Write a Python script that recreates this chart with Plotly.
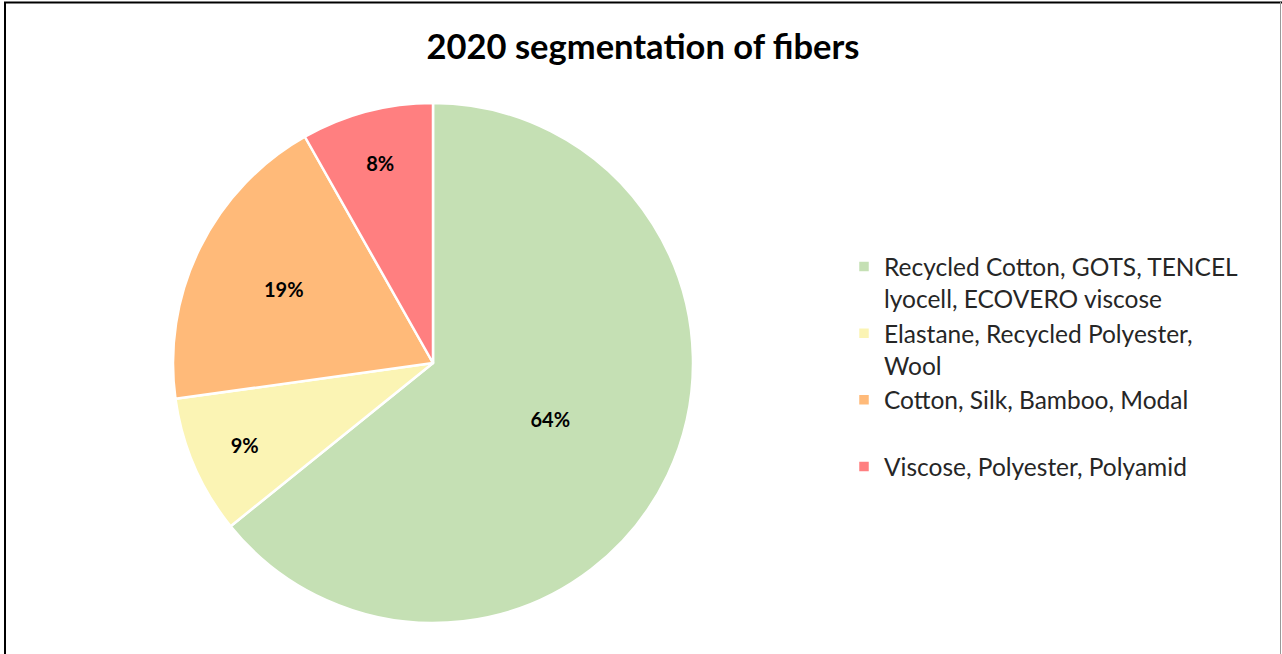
import plotly.graph_objects as go

title = "2020 segmentation of fibers"
categories = [
    "Recycled Cotton, GOTS, TENCEL<br>lyocell, ECOVERO viscose",
    "Elastane, Recycled Polyester,<br>Wool",
    "Cotton, Silk, Bamboo, Modal<br> ",
    "Viscose, Polyester, Polyamid",
]
values = [64.2, 8.6, 19.0, 8.2]
colors = ["#C5E0B4", "#FBF4B4", "#FFBA79", "#FF7F80"]

W, H = 1282, 654
cx, cy, r = 433, 363, 260

legend_labels = ["<span style='font-size:24.5px'>" + c + "</span>" for c in categories]

fig = go.Figure(go.Pie(
    labels=legend_labels,
    values=values,
    sort=False,
    direction="clockwise",
    rotation=0,
    marker=dict(colors=colors, line=dict(color="white", width=2.5)),
    texttemplate="%{percent:.0%}",
    textposition="inside",
    insidetextorientation="horizontal",
    textfont=dict(family="Lato", size=20, color="black", weight="bold"),
    domain=dict(x=[(cx - r) / W, (cx + r) / W], y=[(H - cy - r) / H, (H - cy + r) / H]),
    hoverinfo="label+percent",
))

fig.update_layout(
    width=W, height=H,
    margin=dict(l=0, r=0, t=0, b=0),
    paper_bgcolor="white",
    title=dict(text="<b>" + title + "</b>", x=643 / W, xanchor="center", y=1 - 47 / H, yanchor="middle",
               font=dict(family="Lato", size=34.5, color="black")),
    legend=dict(x=844 / W, xanchor="left", y=1 - 244 / H, yanchor="top",
                font=dict(family="Lato", size=24.5, color="#262626"),
                valign="top", bgcolor="rgba(0,0,0,0)"),
    shapes=[
        dict(type="line", xref="paper", yref="paper", x0=4 / W, x1=1, y0=1 - 2.5 / H, y1=1 - 2.5 / H,
             line=dict(color="black", width=2)),
        dict(type="line", xref="paper", yref="paper", x0=5 / W, x1=5 / W, y0=0, y1=1 - 2 / H,
             line=dict(color="black", width=2)),
        dict(type="line", xref="paper", yref="paper", x0=1280.5 / W, x1=1280.5 / W, y0=0, y1=1 - 2 / H,
             line=dict(color="#999999", width=1)),
    ],
)

fig.write_html("out.html", config={"displayModeBar": False},
               post_script="document.body.style.margin='0';document.body.style.overflow='hidden';")
